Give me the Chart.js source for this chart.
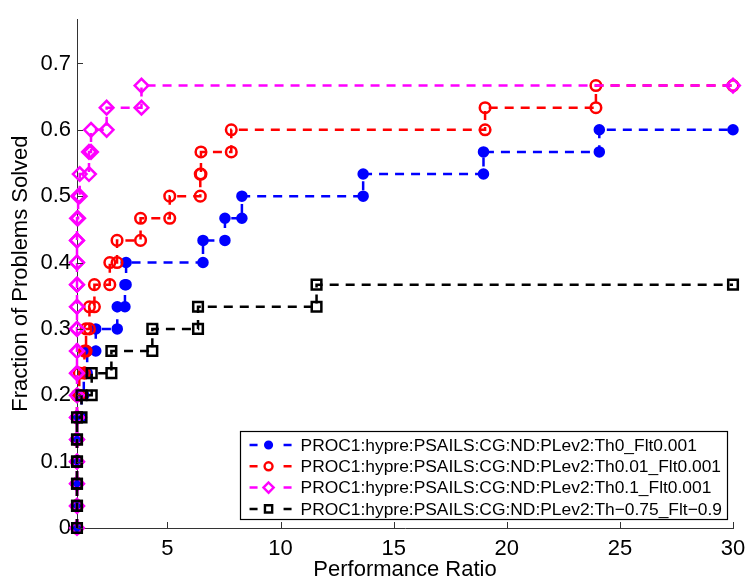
<!DOCTYPE html>
<html>
<head>
<meta charset="utf-8">
<script src="https://cdn.jsdelivr.net/npm/chart.js@4.4.1/dist/chart.umd.min.js"></script>
<style>
    html, body { margin: 0; padding: 0; background: #fff; }
    #wrap { width: 748px; height: 581px; }
</style>
</head>
<body>
<div id="wrap"><canvas id="profileChart" width="748" height="581"></canvas></div>
<script>
// ===================================
// DATA (performance ratios of solved problems, sorted)
// ===================================

const seriesLabels = [
    'PROC1:hypre:PSAILS:CG:ND:PLev2:Th0_Flt0.001',
    'PROC1:hypre:PSAILS:CG:ND:PLev2:Th0.01_Flt0.001',
    'PROC1:hypre:PSAILS:CG:ND:PLev2:Th0.1_Flt0.001',
    'PROC1:hypre:PSAILS:CG:ND:PLev2:Th\u22120.75_Flt\u22120.9'
];

const ratiosTh0 = [1, 1, 1, 1, 1, 1.2, 1.3, 1.45, 1.83, 2.78, 3.12, 3.17,
    6.57, 7.54, 8.29, 13.65, 18.97, 24.09];
const ratiosTh001 = [1, 1, 1, 1, 1, 1, 1.1, 1.33, 1.4, 1.55, 1.77, 2.45,
    2.77, 3.81, 5.1, 6.45, 6.48, 7.82, 19.04, 23.94];
const ratiosTh01 = [1, 1, 1, 1, 1, 1, 1, 1, 1, 1, 1, 1, 1, 1,
    1.05, 1.12, 1.53, 1.62, 2.31, 3.85];
const ratiosThNeg = [1, 1, 1, 1, 1, 1.2, 1.65, 2.52, 4.33, 6.35, 11.59];

const nProblems = 30;
const xMin = 1;
const xMax = 30;
const yMax = 23 / 30;
const xTicks = [5, 10, 15, 20, 25, 30];
const yTicks = [0, 0.1, 0.2, 0.3, 0.4, 0.5, 0.6, 0.7];

// ===================================
// HELPERS
// ===================================

// stair corners: one vertical jump of 1/nProblems at every ratio
function stairPoints(ratios) {
    const pts = [];
    ratios.forEach((r, k) => {
        pts.push({ x: r, y: k / nProblems });
        pts.push({ x: r, y: (k + 1) / nProblems });
    });
    pts.push({ x: xMax, y: ratios.length / nProblems });
    return pts;
}

function makeSeries(label, ratios, color, style, order) {
    return {
        label: label,
        data: stairPoints(ratios),
        borderColor: color,
        borderWidth: 2.5,
        borderDash: [9, 7],
        pointStyle: style.shape,
        pointRadius: style.radius,
        pointBorderWidth: 2.5,
        pointBorderColor: color,
        pointBackgroundColor: style.filled ? color : 'rgba(0,0,0,0)',
        pointHoverRadius: style.radius,
        fill: false,
        tension: 0,
        clip: false,
        order: order
    };
}

const markerStyles = [
    { shape: 'circle', radius: 4.5, filled: true },
    { shape: 'circle', radius: 5.3, filled: false },
    { shape: 'rectRot', radius: 6.8, filled: false },
    { shape: 'rect', radius: 6.8, filled: false }
];
const seriesColors = ['#0000ff', '#ff0000', '#ff00ff', '#000000'];

function drawMarker(ctx, style, color, x, y, scale) {
    const r = style.radius * scale;
    ctx.save();
    ctx.setLineDash([]);
    ctx.lineWidth = 2.4;
    ctx.strokeStyle = color;
    ctx.fillStyle = color;
    ctx.beginPath();
    if (style.shape === 'circle') {
        ctx.arc(x, y, r, 0, Math.PI * 2);
    } else if (style.shape === 'rectRot') {
        ctx.moveTo(x, y - r);
        ctx.lineTo(x + r, y);
        ctx.lineTo(x, y + r);
        ctx.lineTo(x - r, y);
        ctx.closePath();
    } else {
        const h = r * Math.SQRT1_2;
        ctx.rect(x - h, y - h, 2 * h, 2 * h);
    }
    if (style.filled) ctx.fill();
    ctx.stroke();
    ctx.restore();
}

// ===================================
// PLUGIN: inward ticks + boxed legend
// ===================================

const matlabAxes = {
    id: 'matlabAxes',
    afterDraw(chart) {
        const ctx = chart.ctx;
        const area = chart.chartArea;
        const xs = chart.scales.x;
        const ys = chart.scales.y;

        ctx.save();
        ctx.strokeStyle = '#333';
        ctx.lineWidth = 1;
        xTicks.forEach(v => {
            const px = Math.round(xs.getPixelForValue(v)) + 0.5;
            ctx.beginPath();
            ctx.moveTo(px, area.bottom);
            ctx.lineTo(px, area.bottom - 6);
            ctx.stroke();
        });
        yTicks.forEach(v => {
            const py = Math.round(ys.getPixelForValue(v)) + 0.5;
            ctx.beginPath();
            ctx.moveTo(area.left, py);
            ctx.lineTo(area.left + 6, py);
            ctx.stroke();
        });

        // legend box
        ctx.font = '17.4px "Liberation Sans", Arial, sans-serif';
        let maxW = 0;
        seriesLabels.forEach(t => { maxW = Math.max(maxW, ctx.measureText(t).width); });
        const boxW = 61 + maxW + 5;
        const boxH = 88;
        const boxR = area.right - 6;
        const boxB = area.bottom - 9;
        const boxL = boxR - boxW;
        const boxT = boxB - boxH;

        ctx.fillStyle = '#fff';
        ctx.fillRect(boxL, boxT, boxW, boxH);
        ctx.strokeStyle = '#000';
        ctx.lineWidth = 1.2;
        ctx.strokeRect(Math.round(boxL) + 0.5, Math.round(boxT) + 0.5, Math.round(boxW), Math.round(boxH));

        seriesLabels.forEach((t, i) => {
            const cy = boxT + 14 + i * 21.3;
            const color = seriesColors[i];
            ctx.strokeStyle = color;
            ctx.lineWidth = 2.5;
            ctx.beginPath();
            ctx.moveTo(boxL + 10, cy);
            ctx.lineTo(boxL + 18, cy);
            ctx.moveTo(boxL + 44, cy);
            ctx.lineTo(boxL + 52, cy);
            ctx.stroke();
            drawMarker(ctx, markerStyles[i], color, boxL + 29, cy, 0.75);
            ctx.fillStyle = '#000';
            ctx.textBaseline = 'middle';
            ctx.textAlign = 'left';
            ctx.fillText(t, boxL + 61, cy + 1);
        });
        ctx.restore();
    }
};

// ===================================
// CHART
// ===================================

const datasets = [
    makeSeries(seriesLabels[0], ratiosTh0, seriesColors[0], markerStyles[0], 4),
    makeSeries(seriesLabels[1], ratiosTh001, seriesColors[1], markerStyles[1], 3),
    makeSeries(seriesLabels[2], ratiosTh01, seriesColors[2], markerStyles[2], 2),
    makeSeries(seriesLabels[3], ratiosThNeg, seriesColors[3], markerStyles[3], 1)
];

const fontFamily = '"Liberation Sans", Arial, sans-serif';

new Chart(document.getElementById('profileChart'), {
    type: 'line',
    data: { datasets: datasets },
    options: {
        responsive: false,
        animation: false,
        devicePixelRatio: 1,
        layout: { padding: { top: 11, right: 15, left: 0, bottom: 0 } },
        plugins: {
            legend: { display: false },
            tooltip: { enabled: false }
        },
        scales: {
            x: {
                type: 'linear',
                min: xMin,
                max: xMax,
                afterBuildTicks: scale => { scale.ticks = xTicks.map(v => ({ value: v })); },
                afterFit: scale => {
                    scale.height = 53;
                    scale.paddingLeft = 0;
                    scale.paddingRight = 0;
                },
                grid: { display: true, drawOnChartArea: false, drawTicks: false },
                border: { display: true, color: '#333', width: 1 },
                ticks: {
                    color: '#000',
                    padding: 8,
                    maxRotation: 0,
                    font: { family: fontFamily, size: 22 }
                },
                title: {
                    display: true,
                    text: 'Performance Ratio',
                    color: '#000',
                    padding: { top: 0, bottom: 0 },
                    font: { family: fontFamily, size: 22, lineHeight: 1.0 }
                }
            },
            y: {
                type: 'linear',
                min: 0,
                max: yMax,
                afterBuildTicks: scale => { scale.ticks = yTicks.map(v => ({ value: v })); },
                afterFit: scale => { scale.width = 77; },
                grid: { display: true, drawOnChartArea: false, drawTicks: false },
                border: { display: true, color: '#333', width: 1 },
                ticks: {
                    color: '#000',
                    padding: 6,
                    font: { family: fontFamily, size: 22 },
                    callback: v => (v === 0 ? '0' : v.toFixed(1))
                },
                title: {
                    display: true,
                    text: 'Fraction of Problems Solved',
                    color: '#000',
                    padding: { top: 8, bottom: 0 },
                    font: { family: fontFamily, size: 22 }
                }
            }
        }
    },
    plugins: [matlabAxes]
});
</script>
</body>
</html>
